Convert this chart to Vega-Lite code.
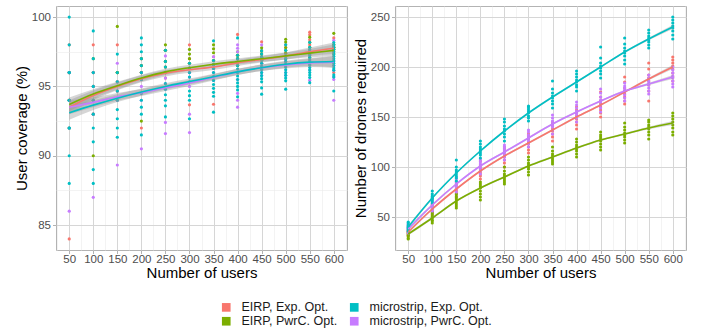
{
 "$schema": "https://vega.github.io/schema/vega-lite/v6.json",
 "padding": {"left": 13, "top": 5, "right": 4, "bottom": 0},
 "background": "white",
 "config": {
  "font": "Liberation Sans",
  "view": {"stroke": "#B3B3B3", "strokeWidth": 1},
  "axis": {"labelFont": "Liberation Sans", "labelFontSize": 11.5, "labelColor": "#4D4D4D", "titleFont": "Liberation Sans", "titleFontSize": 15, "titleFontWeight": "normal", "titleColor": "#000000", "tickColor": "#B3B3B3", "tickSize": 3.5, "labelPadding": 2, "titlePadding": 2, "domain": false, "grid": true},
  "axisX": {"labelPadding": 0, "titlePadding": 0.5},
  "legend": {"labelFont": "Liberation Sans", "labelFontSize": 12.5, "labelColor": "#1A1A1A"}
 },
 "datasets": {
  "coverage": [
   {"users":50,"cfg":"E1","value":84},{"users":50,"cfg":"E1","value":94},{"users":50,"cfg":"E1","value":96},{"users":50,"cfg":"E1","value":94},{"users":50,"cfg":"E1","value":92},{"users":50,"cfg":"E1","value":96},{"users":50,"cfg":"E1","value":98},
   {"users":100,"cfg":"E1","value":98},{"users":100,"cfg":"E1","value":95},{"users":100,"cfg":"E1","value":94},{"users":100,"cfg":"E1","value":96},{"users":100,"cfg":"E1","value":93},
   {"users":150,"cfg":"E1","value":98},{"users":150,"cfg":"E1","value":95.33},{"users":150,"cfg":"E1","value":96},{"users":150,"cfg":"E1","value":94.67},{"users":150,"cfg":"E1","value":94},
   {"users":200,"cfg":"E1","value":92},{"users":200,"cfg":"E1","value":96},{"users":200,"cfg":"E1","value":95.5},{"users":200,"cfg":"E1","value":96.5},{"users":200,"cfg":"E1","value":97},{"users":200,"cfg":"E1","value":96},
   {"users":250,"cfg":"E1","value":96.4},{"users":250,"cfg":"E1","value":96},{"users":250,"cfg":"E1","value":96.8},{"users":250,"cfg":"E1","value":95.6},{"users":250,"cfg":"E1","value":97.6},
   {"users":300,"cfg":"E1","value":98},{"users":300,"cfg":"E1","value":93.67},{"users":300,"cfg":"E1","value":96.67},{"users":300,"cfg":"E1","value":96.33},{"users":300,"cfg":"E1","value":96},{"users":300,"cfg":"E1","value":97},
   {"users":350,"cfg":"E1","value":93.71},{"users":350,"cfg":"E1","value":96.57},{"users":350,"cfg":"E1","value":96.86},{"users":350,"cfg":"E1","value":97.14},{"users":350,"cfg":"E1","value":96.29},
   {"users":400,"cfg":"E1","value":98.75},{"users":400,"cfg":"E1","value":97},{"users":400,"cfg":"E1","value":96.5},{"users":400,"cfg":"E1","value":96.75},{"users":400,"cfg":"E1","value":97.25},
   {"users":450,"cfg":"E1","value":98.22},{"users":450,"cfg":"E1","value":97.33},{"users":450,"cfg":"E1","value":97.11},{"users":450,"cfg":"E1","value":96.67},{"users":450,"cfg":"E1","value":97.56},
   {"users":500,"cfg":"E1","value":98},{"users":500,"cfg":"E1","value":97.8},{"users":500,"cfg":"E1","value":97.4},{"users":500,"cfg":"E1","value":97.2},{"users":500,"cfg":"E1","value":96.8},{"users":500,"cfg":"E1","value":97},
   {"users":550,"cfg":"E1","value":98.91},{"users":550,"cfg":"E1","value":98.73},{"users":550,"cfg":"E1","value":98.36},{"users":550,"cfg":"E1","value":98},{"users":550,"cfg":"E1","value":97.64},{"users":550,"cfg":"E1","value":97.27},
   {"users":600,"cfg":"E1","value":98.5},{"users":600,"cfg":"E1","value":98},{"users":600,"cfg":"E1","value":97.5},{"users":600,"cfg":"E1","value":96},{"users":600,"cfg":"E1","value":97.67},{"users":600,"cfg":"E1","value":97.83},
   {"users":50,"cfg":"E2","value":94},{"users":50,"cfg":"E2","value":96},{"users":50,"cfg":"E2","value":92},{"users":50,"cfg":"E2","value":94},{"users":50,"cfg":"E2","value":96},{"users":50,"cfg":"E2","value":94},
   {"users":100,"cfg":"E2","value":90},{"users":100,"cfg":"E2","value":95},{"users":100,"cfg":"E2","value":94},{"users":100,"cfg":"E2","value":96},{"users":100,"cfg":"E2","value":97},{"users":100,"cfg":"E2","value":93},
   {"users":150,"cfg":"E2","value":99.33},{"users":150,"cfg":"E2","value":96},{"users":150,"cfg":"E2","value":95.33},{"users":150,"cfg":"E2","value":94.67},{"users":150,"cfg":"E2","value":96},
   {"users":200,"cfg":"E2","value":92.5},{"users":200,"cfg":"E2","value":96},{"users":200,"cfg":"E2","value":97},{"users":200,"cfg":"E2","value":96.5},{"users":200,"cfg":"E2","value":95.5},{"users":200,"cfg":"E2","value":96},
   {"users":250,"cfg":"E2","value":98},{"users":250,"cfg":"E2","value":96.8},{"users":250,"cfg":"E2","value":96.4},{"users":250,"cfg":"E2","value":96},{"users":250,"cfg":"E2","value":97.6},
   {"users":300,"cfg":"E2","value":97.67},{"users":300,"cfg":"E2","value":97.33},{"users":300,"cfg":"E2","value":97},{"users":300,"cfg":"E2","value":96.33},{"users":300,"cfg":"E2","value":96.67},
   {"users":350,"cfg":"E2","value":98},{"users":350,"cfg":"E2","value":97.71},{"users":350,"cfg":"E2","value":97.43},{"users":350,"cfg":"E2","value":96.86},{"users":350,"cfg":"E2","value":96.57},
   {"users":400,"cfg":"E2","value":97.25},{"users":400,"cfg":"E2","value":97},{"users":400,"cfg":"E2","value":96.75},{"users":400,"cfg":"E2","value":97.5},{"users":400,"cfg":"E2","value":96.5},
   {"users":450,"cfg":"E2","value":97.78},{"users":450,"cfg":"E2","value":97.56},{"users":450,"cfg":"E2","value":97.33},{"users":450,"cfg":"E2","value":96.89},{"users":450,"cfg":"E2","value":97.11},
   {"users":500,"cfg":"E2","value":98.4},{"users":500,"cfg":"E2","value":98.2},{"users":500,"cfg":"E2","value":97.8},{"users":500,"cfg":"E2","value":97.6},{"users":500,"cfg":"E2","value":97.4},{"users":500,"cfg":"E2","value":97},
   {"users":550,"cfg":"E2","value":98.55},{"users":550,"cfg":"E2","value":98.18},{"users":550,"cfg":"E2","value":97.82},{"users":550,"cfg":"E2","value":97.45},{"users":550,"cfg":"E2","value":97.09},
   {"users":600,"cfg":"E2","value":98.83},{"users":600,"cfg":"E2","value":98},{"users":600,"cfg":"E2","value":97.67},{"users":600,"cfg":"E2","value":97.33},{"users":600,"cfg":"E2","value":97.83},
   {"users":50,"cfg":"M2","value":86},{"users":50,"cfg":"M2","value":94},{"users":50,"cfg":"M2","value":96},{"users":50,"cfg":"M2","value":92},{"users":50,"cfg":"M2","value":94},{"users":50,"cfg":"M2","value":96},
   {"users":100,"cfg":"M2","value":87},{"users":100,"cfg":"M2","value":94},{"users":100,"cfg":"M2","value":95},{"users":100,"cfg":"M2","value":93},{"users":100,"cfg":"M2","value":96},
   {"users":150,"cfg":"M2","value":96.67},{"users":150,"cfg":"M2","value":89.33},{"users":150,"cfg":"M2","value":94.67},{"users":150,"cfg":"M2","value":94},{"users":150,"cfg":"M2","value":95.33},
   {"users":200,"cfg":"M2","value":95},{"users":200,"cfg":"M2","value":90.5},{"users":200,"cfg":"M2","value":94.5},{"users":200,"cfg":"M2","value":95.5},{"users":200,"cfg":"M2","value":94},{"users":200,"cfg":"M2","value":96},
   {"users":250,"cfg":"M2","value":97.2},{"users":250,"cfg":"M2","value":95.6},{"users":250,"cfg":"M2","value":92.4},{"users":250,"cfg":"M2","value":91.6},{"users":250,"cfg":"M2","value":95.2},{"users":250,"cfg":"M2","value":94.8},
   {"users":300,"cfg":"M2","value":95},{"users":300,"cfg":"M2","value":93},{"users":300,"cfg":"M2","value":91.67},{"users":300,"cfg":"M2","value":95.67},{"users":300,"cfg":"M2","value":96},{"users":300,"cfg":"M2","value":96.33},
   {"users":350,"cfg":"M2","value":97.14},{"users":350,"cfg":"M2","value":96},{"users":350,"cfg":"M2","value":95.71},{"users":350,"cfg":"M2","value":96.29},{"users":350,"cfg":"M2","value":95.43},
   {"users":400,"cfg":"M2","value":98},{"users":400,"cfg":"M2","value":97.75},{"users":400,"cfg":"M2","value":97.5},{"users":400,"cfg":"M2","value":94.5},{"users":400,"cfg":"M2","value":94},{"users":400,"cfg":"M2","value":93.5},{"users":400,"cfg":"M2","value":96},{"users":400,"cfg":"M2","value":95.5},
   {"users":450,"cfg":"M2","value":98},{"users":450,"cfg":"M2","value":96.67},{"users":450,"cfg":"M2","value":96.44},{"users":450,"cfg":"M2","value":96.22},{"users":450,"cfg":"M2","value":95.78},{"users":450,"cfg":"M2","value":96},
   {"users":500,"cfg":"M2","value":97.2},{"users":500,"cfg":"M2","value":96.8},{"users":500,"cfg":"M2","value":96.4},{"users":500,"cfg":"M2","value":96},{"users":500,"cfg":"M2","value":95.8},{"users":500,"cfg":"M2","value":96.6},
   {"users":550,"cfg":"M2","value":97.45},{"users":550,"cfg":"M2","value":97.27},{"users":550,"cfg":"M2","value":96.91},{"users":550,"cfg":"M2","value":96.55},{"users":550,"cfg":"M2","value":96.18},{"users":550,"cfg":"M2","value":95.45},
   {"users":600,"cfg":"M2","value":98.33},{"users":600,"cfg":"M2","value":96.83},{"users":600,"cfg":"M2","value":96.5},{"users":600,"cfg":"M2","value":95.5},{"users":600,"cfg":"M2","value":95.67},{"users":600,"cfg":"M2","value":94},{"users":600,"cfg":"M2","value":96.17},
   {"users":50,"cfg":"M1","value":100},{"users":50,"cfg":"M1","value":98},{"users":50,"cfg":"M1","value":96},{"users":50,"cfg":"M1","value":94},{"users":50,"cfg":"M1","value":92},{"users":50,"cfg":"M1","value":90},{"users":50,"cfg":"M1","value":88},{"users":50,"cfg":"M1","value":94},{"users":50,"cfg":"M1","value":92},{"users":50,"cfg":"M1","value":96},
   {"users":100,"cfg":"M1","value":99},{"users":100,"cfg":"M1","value":97},{"users":100,"cfg":"M1","value":96},{"users":100,"cfg":"M1","value":95},{"users":100,"cfg":"M1","value":94},{"users":100,"cfg":"M1","value":93},{"users":100,"cfg":"M1","value":92},{"users":100,"cfg":"M1","value":91},{"users":100,"cfg":"M1","value":89},{"users":100,"cfg":"M1","value":88},
   {"users":150,"cfg":"M1","value":97.33},{"users":150,"cfg":"M1","value":96},{"users":150,"cfg":"M1","value":95.33},{"users":150,"cfg":"M1","value":94.67},{"users":150,"cfg":"M1","value":94},{"users":150,"cfg":"M1","value":93.33},{"users":150,"cfg":"M1","value":92.67},{"users":150,"cfg":"M1","value":92},{"users":150,"cfg":"M1","value":91.33},
   {"users":200,"cfg":"M1","value":98.5},{"users":200,"cfg":"M1","value":98},{"users":200,"cfg":"M1","value":97.5},{"users":200,"cfg":"M1","value":97},{"users":200,"cfg":"M1","value":96.5},{"users":200,"cfg":"M1","value":96},{"users":200,"cfg":"M1","value":95.5},{"users":200,"cfg":"M1","value":94.5},{"users":200,"cfg":"M1","value":94},{"users":200,"cfg":"M1","value":93.5},{"users":200,"cfg":"M1","value":93},{"users":200,"cfg":"M1","value":91.5},
   {"users":250,"cfg":"M1","value":97.6},{"users":250,"cfg":"M1","value":96.8},{"users":250,"cfg":"M1","value":96.4},{"users":250,"cfg":"M1","value":96},{"users":250,"cfg":"M1","value":95.2},{"users":250,"cfg":"M1","value":94.8},{"users":250,"cfg":"M1","value":94.4},{"users":250,"cfg":"M1","value":94},{"users":250,"cfg":"M1","value":93.6},{"users":250,"cfg":"M1","value":92.8},
   {"users":300,"cfg":"M1","value":96.67},{"users":300,"cfg":"M1","value":96.33},{"users":300,"cfg":"M1","value":96},{"users":300,"cfg":"M1","value":95.67},{"users":300,"cfg":"M1","value":95.33},{"users":300,"cfg":"M1","value":94.67},{"users":300,"cfg":"M1","value":94.33},{"users":300,"cfg":"M1","value":94},{"users":300,"cfg":"M1","value":92.67},
   {"users":350,"cfg":"M1","value":98.29},{"users":350,"cfg":"M1","value":96.86},{"users":350,"cfg":"M1","value":96.57},{"users":350,"cfg":"M1","value":96.29},{"users":350,"cfg":"M1","value":96},{"users":350,"cfg":"M1","value":95.71},{"users":350,"cfg":"M1","value":95.43},{"users":350,"cfg":"M1","value":95.14},{"users":350,"cfg":"M1","value":94.86},{"users":350,"cfg":"M1","value":94.57},{"users":350,"cfg":"M1","value":94.29},{"users":350,"cfg":"M1","value":93.14},
   {"users":400,"cfg":"M1","value":98.5},{"users":400,"cfg":"M1","value":97.25},{"users":400,"cfg":"M1","value":97},{"users":400,"cfg":"M1","value":96.75},{"users":400,"cfg":"M1","value":96.5},{"users":400,"cfg":"M1","value":96.25},{"users":400,"cfg":"M1","value":96},{"users":400,"cfg":"M1","value":95.75},{"users":400,"cfg":"M1","value":95.5},{"users":400,"cfg":"M1","value":95.25},{"users":400,"cfg":"M1","value":95},{"users":400,"cfg":"M1","value":94.75},{"users":400,"cfg":"M1","value":94.25},
   {"users":450,"cfg":"M1","value":97.56},{"users":450,"cfg":"M1","value":97.33},{"users":450,"cfg":"M1","value":97.11},{"users":450,"cfg":"M1","value":96.89},{"users":450,"cfg":"M1","value":96.67},{"users":450,"cfg":"M1","value":96.44},{"users":450,"cfg":"M1","value":96.22},{"users":450,"cfg":"M1","value":96},{"users":450,"cfg":"M1","value":95.78},{"users":450,"cfg":"M1","value":95.56},{"users":450,"cfg":"M1","value":95.33},{"users":450,"cfg":"M1","value":94.89},{"users":450,"cfg":"M1","value":94.44},
   {"users":500,"cfg":"M1","value":98},{"users":500,"cfg":"M1","value":97.6},{"users":500,"cfg":"M1","value":97.2},{"users":500,"cfg":"M1","value":97},{"users":500,"cfg":"M1","value":96.8},{"users":500,"cfg":"M1","value":96.6},{"users":500,"cfg":"M1","value":96.4},{"users":500,"cfg":"M1","value":96.2},{"users":500,"cfg":"M1","value":96},{"users":500,"cfg":"M1","value":95.8},{"users":500,"cfg":"M1","value":95.6},{"users":500,"cfg":"M1","value":95.4},{"users":500,"cfg":"M1","value":94.8},
   {"users":550,"cfg":"M1","value":98.18},{"users":550,"cfg":"M1","value":97.82},{"users":550,"cfg":"M1","value":97.64},{"users":550,"cfg":"M1","value":97.45},{"users":550,"cfg":"M1","value":97.27},{"users":550,"cfg":"M1","value":97.09},{"users":550,"cfg":"M1","value":96.91},{"users":550,"cfg":"M1","value":96.73},{"users":550,"cfg":"M1","value":96.55},{"users":550,"cfg":"M1","value":96.36},{"users":550,"cfg":"M1","value":96.18},{"users":550,"cfg":"M1","value":96},{"users":550,"cfg":"M1","value":95.82},{"users":550,"cfg":"M1","value":95.64},{"users":550,"cfg":"M1","value":95.27},
   {"users":600,"cfg":"M1","value":98.17},{"users":600,"cfg":"M1","value":98},{"users":600,"cfg":"M1","value":97.83},{"users":600,"cfg":"M1","value":97.67},{"users":600,"cfg":"M1","value":97.5},{"users":600,"cfg":"M1","value":97.33},{"users":600,"cfg":"M1","value":97.17},{"users":600,"cfg":"M1","value":97},{"users":600,"cfg":"M1","value":96.83},{"users":600,"cfg":"M1","value":96.67},{"users":600,"cfg":"M1","value":96.5},{"users":600,"cfg":"M1","value":96.33},{"users":600,"cfg":"M1","value":96.17},{"users":600,"cfg":"M1","value":95.83},{"users":600,"cfg":"M1","value":95.67},{"users":600,"cfg":"M1","value":94.67}
  ],
  "coverFit": [
   {"users":50,"cfg":"E1","fit":93.5,"lo":93.0,"hi":94.0},{"users":100,"cfg":"E1","fit":94.35,"lo":94.0,"hi":94.7},{"users":150,"cfg":"E1","fit":95.0,"lo":94.72,"hi":95.28},{"users":200,"cfg":"E1","fit":95.55,"lo":95.3,"hi":95.8},{"users":250,"cfg":"E1","fit":95.95,"lo":95.72,"hi":96.18},{"users":300,"cfg":"E1","fit":96.2,"lo":95.98,"hi":96.42},{"users":350,"cfg":"E1","fit":96.4,"lo":96.18,"hi":96.62},{"users":400,"cfg":"E1","fit":96.7,"lo":96.48,"hi":96.92},{"users":450,"cfg":"E1","fit":96.95,"lo":96.72,"hi":97.18},{"users":500,"cfg":"E1","fit":97.2,"lo":96.95,"hi":97.45},{"users":550,"cfg":"E1","fit":97.5,"lo":97.2,"hi":97.8},{"users":600,"cfg":"E1","fit":97.75,"lo":97.33,"hi":98.17},
   {"users":50,"cfg":"E2","fit":93.7,"lo":93.2,"hi":94.2},{"users":100,"cfg":"E2","fit":94.45,"lo":94.1,"hi":94.8},{"users":150,"cfg":"E2","fit":95.05,"lo":94.77,"hi":95.33},{"users":200,"cfg":"E2","fit":95.6,"lo":95.35,"hi":95.85},{"users":250,"cfg":"E2","fit":96.05,"lo":95.82,"hi":96.28},{"users":300,"cfg":"E2","fit":96.35,"lo":96.13,"hi":96.57},{"users":350,"cfg":"E2","fit":96.6,"lo":96.38,"hi":96.82},{"users":400,"cfg":"E2","fit":96.8,"lo":96.58,"hi":97.02},{"users":450,"cfg":"E2","fit":97.0,"lo":96.77,"hi":97.23},{"users":500,"cfg":"E2","fit":97.2,"lo":96.95,"hi":97.45},{"users":550,"cfg":"E2","fit":97.4,"lo":97.1,"hi":97.7},{"users":600,"cfg":"E2","fit":97.6,"lo":97.18,"hi":98.02},
   {"users":50,"cfg":"M2","fit":93.5,"lo":93.0,"hi":94.0},{"users":100,"cfg":"M2","fit":93.85,"lo":93.5,"hi":94.2},{"users":150,"cfg":"M2","fit":94.25,"lo":93.97,"hi":94.53},{"users":200,"cfg":"M2","fit":94.55,"lo":94.3,"hi":94.8},{"users":250,"cfg":"M2","fit":94.9,"lo":94.67,"hi":95.13},{"users":300,"cfg":"M2","fit":95.25,"lo":95.03,"hi":95.47},{"users":350,"cfg":"M2","fit":95.65,"lo":95.43,"hi":95.87},{"users":400,"cfg":"M2","fit":96.05,"lo":95.83,"hi":96.27},{"users":450,"cfg":"M2","fit":96.35,"lo":96.12,"hi":96.58},{"users":500,"cfg":"M2","fit":96.55,"lo":96.3,"hi":96.8},{"users":550,"cfg":"M2","fit":96.7,"lo":96.4,"hi":97.0},{"users":600,"cfg":"M2","fit":96.75,"lo":96.33,"hi":97.17},
   {"users":50,"cfg":"M1","fit":93.1,"lo":92.6,"hi":93.6},{"users":100,"cfg":"M1","fit":93.65,"lo":93.3,"hi":94.0},{"users":150,"cfg":"M1","fit":94.15,"lo":93.87,"hi":94.43},{"users":200,"cfg":"M1","fit":94.6,"lo":94.35,"hi":94.85},{"users":250,"cfg":"M1","fit":95.0,"lo":94.77,"hi":95.23},{"users":300,"cfg":"M1","fit":95.35,"lo":95.13,"hi":95.57},{"users":350,"cfg":"M1","fit":95.7,"lo":95.48,"hi":95.92},{"users":400,"cfg":"M1","fit":96.05,"lo":95.83,"hi":96.27},{"users":450,"cfg":"M1","fit":96.35,"lo":96.12,"hi":96.58},{"users":500,"cfg":"M1","fit":96.6,"lo":96.35,"hi":96.85},{"users":550,"cfg":"M1","fit":96.75,"lo":96.45,"hi":97.05},{"users":600,"cfg":"M1","fit":96.8,"lo":96.38,"hi":97.22}
  ],
  "drones": [
   {"users":50,"cfg":"E1","value":31},{"users":50,"cfg":"E1","value":32},{"users":50,"cfg":"E1","value":34},{"users":50,"cfg":"E1","value":35},{"users":50,"cfg":"E1","value":36},{"users":50,"cfg":"E1","value":37},{"users":50,"cfg":"E1","value":38},{"users":50,"cfg":"E1","value":40},
   {"users":100,"cfg":"E1","value":52},{"users":100,"cfg":"E1","value":54},{"users":100,"cfg":"E1","value":56},{"users":100,"cfg":"E1","value":58},{"users":100,"cfg":"E1","value":59},{"users":100,"cfg":"E1","value":60},{"users":100,"cfg":"E1","value":62},{"users":100,"cfg":"E1","value":63},
   {"users":150,"cfg":"E1","value":70},{"users":150,"cfg":"E1","value":73},{"users":150,"cfg":"E1","value":75},{"users":150,"cfg":"E1","value":77},{"users":150,"cfg":"E1","value":79},{"users":150,"cfg":"E1","value":81},{"users":150,"cfg":"E1","value":83},{"users":150,"cfg":"E1","value":85},
   {"users":200,"cfg":"E1","value":88},{"users":200,"cfg":"E1","value":91},{"users":200,"cfg":"E1","value":93},{"users":200,"cfg":"E1","value":95},{"users":200,"cfg":"E1","value":97},{"users":200,"cfg":"E1","value":99},{"users":200,"cfg":"E1","value":102},{"users":200,"cfg":"E1","value":106},
   {"users":250,"cfg":"E1","value":100},{"users":250,"cfg":"E1","value":104},{"users":250,"cfg":"E1","value":107},{"users":250,"cfg":"E1","value":110},{"users":250,"cfg":"E1","value":112},{"users":250,"cfg":"E1","value":115},{"users":250,"cfg":"E1","value":118},{"users":250,"cfg":"E1","value":120},
   {"users":300,"cfg":"E1","value":114},{"users":300,"cfg":"E1","value":117},{"users":300,"cfg":"E1","value":120},{"users":300,"cfg":"E1","value":123},{"users":300,"cfg":"E1","value":125},{"users":300,"cfg":"E1","value":128},{"users":300,"cfg":"E1","value":131},{"users":300,"cfg":"E1","value":133},
   {"users":350,"cfg":"E1","value":126},{"users":350,"cfg":"E1","value":130},{"users":350,"cfg":"E1","value":133},{"users":350,"cfg":"E1","value":136},{"users":350,"cfg":"E1","value":138},{"users":350,"cfg":"E1","value":141},{"users":350,"cfg":"E1","value":143},{"users":350,"cfg":"E1","value":145},
   {"users":400,"cfg":"E1","value":138},{"users":400,"cfg":"E1","value":142},{"users":400,"cfg":"E1","value":145},{"users":400,"cfg":"E1","value":148},{"users":400,"cfg":"E1","value":151},{"users":400,"cfg":"E1","value":154},{"users":400,"cfg":"E1","value":157},{"users":400,"cfg":"E1","value":160},
   {"users":450,"cfg":"E1","value":150},{"users":450,"cfg":"E1","value":154},{"users":450,"cfg":"E1","value":157},{"users":450,"cfg":"E1","value":160},{"users":450,"cfg":"E1","value":163},{"users":450,"cfg":"E1","value":166},{"users":450,"cfg":"E1","value":170},{"users":450,"cfg":"E1","value":175},
   {"users":500,"cfg":"E1","value":163},{"users":500,"cfg":"E1","value":166},{"users":500,"cfg":"E1","value":170},{"users":500,"cfg":"E1","value":173},{"users":500,"cfg":"E1","value":176},{"users":500,"cfg":"E1","value":179},{"users":500,"cfg":"E1","value":185},{"users":500,"cfg":"E1","value":190},
   {"users":550,"cfg":"E1","value":166},{"users":550,"cfg":"E1","value":176},{"users":550,"cfg":"E1","value":182},{"users":550,"cfg":"E1","value":186},{"users":550,"cfg":"E1","value":189},{"users":550,"cfg":"E1","value":192},{"users":550,"cfg":"E1","value":198},{"users":550,"cfg":"E1","value":204},
   {"users":600,"cfg":"E1","value":186},{"users":600,"cfg":"E1","value":190},{"users":600,"cfg":"E1","value":194},{"users":600,"cfg":"E1","value":198},{"users":600,"cfg":"E1","value":201},{"users":600,"cfg":"E1","value":204},{"users":600,"cfg":"E1","value":207},{"users":600,"cfg":"E1","value":210},
   {"users":50,"cfg":"E2","value":28},{"users":50,"cfg":"E2","value":29},{"users":50,"cfg":"E2","value":31},{"users":50,"cfg":"E2","value":32},{"users":50,"cfg":"E2","value":33},{"users":50,"cfg":"E2","value":34},{"users":50,"cfg":"E2","value":35},{"users":50,"cfg":"E2","value":36},
   {"users":100,"cfg":"E2","value":44},{"users":100,"cfg":"E2","value":46},{"users":100,"cfg":"E2","value":47},{"users":100,"cfg":"E2","value":49},{"users":100,"cfg":"E2","value":50},{"users":100,"cfg":"E2","value":51},{"users":100,"cfg":"E2","value":53},{"users":100,"cfg":"E2","value":55},
   {"users":150,"cfg":"E2","value":59},{"users":150,"cfg":"E2","value":61},{"users":150,"cfg":"E2","value":63},{"users":150,"cfg":"E2","value":65},{"users":150,"cfg":"E2","value":67},{"users":150,"cfg":"E2","value":69},{"users":150,"cfg":"E2","value":71},{"users":150,"cfg":"E2","value":73},
   {"users":200,"cfg":"E2","value":67},{"users":200,"cfg":"E2","value":70},{"users":200,"cfg":"E2","value":73},{"users":200,"cfg":"E2","value":76},{"users":200,"cfg":"E2","value":79},{"users":200,"cfg":"E2","value":81},{"users":200,"cfg":"E2","value":83},{"users":200,"cfg":"E2","value":85},
   {"users":250,"cfg":"E2","value":83},{"users":250,"cfg":"E2","value":85},{"users":250,"cfg":"E2","value":87},{"users":250,"cfg":"E2","value":89},{"users":250,"cfg":"E2","value":91},{"users":250,"cfg":"E2","value":93},{"users":250,"cfg":"E2","value":96},{"users":250,"cfg":"E2","value":100},
   {"users":300,"cfg":"E2","value":92},{"users":300,"cfg":"E2","value":95},{"users":300,"cfg":"E2","value":98},{"users":300,"cfg":"E2","value":100},{"users":300,"cfg":"E2","value":102},{"users":300,"cfg":"E2","value":104},{"users":300,"cfg":"E2","value":107},{"users":300,"cfg":"E2","value":110},
   {"users":350,"cfg":"E2","value":103},{"users":350,"cfg":"E2","value":105},{"users":350,"cfg":"E2","value":107},{"users":350,"cfg":"E2","value":109},{"users":350,"cfg":"E2","value":111},{"users":350,"cfg":"E2","value":113},{"users":350,"cfg":"E2","value":116},{"users":350,"cfg":"E2","value":120},
   {"users":400,"cfg":"E2","value":110},{"users":400,"cfg":"E2","value":113},{"users":400,"cfg":"E2","value":116},{"users":400,"cfg":"E2","value":118},{"users":400,"cfg":"E2","value":120},{"users":400,"cfg":"E2","value":122},{"users":400,"cfg":"E2","value":125},{"users":400,"cfg":"E2","value":128},
   {"users":450,"cfg":"E2","value":117},{"users":450,"cfg":"E2","value":120},{"users":450,"cfg":"E2","value":123},{"users":450,"cfg":"E2","value":126},{"users":450,"cfg":"E2","value":128},{"users":450,"cfg":"E2","value":130},{"users":450,"cfg":"E2","value":132},{"users":450,"cfg":"E2","value":135},
   {"users":500,"cfg":"E2","value":124},{"users":500,"cfg":"E2","value":127},{"users":500,"cfg":"E2","value":130},{"users":500,"cfg":"E2","value":132},{"users":500,"cfg":"E2","value":134},{"users":500,"cfg":"E2","value":137},{"users":500,"cfg":"E2","value":140},{"users":500,"cfg":"E2","value":144},
   {"users":550,"cfg":"E2","value":128},{"users":550,"cfg":"E2","value":132},{"users":550,"cfg":"E2","value":135},{"users":550,"cfg":"E2","value":138},{"users":550,"cfg":"E2","value":140},{"users":550,"cfg":"E2","value":142},{"users":550,"cfg":"E2","value":145},{"users":550,"cfg":"E2","value":147},
   {"users":600,"cfg":"E2","value":132},{"users":600,"cfg":"E2","value":135},{"users":600,"cfg":"E2","value":139},{"users":600,"cfg":"E2","value":142},{"users":600,"cfg":"E2","value":145},{"users":600,"cfg":"E2","value":148},{"users":600,"cfg":"E2","value":151},{"users":600,"cfg":"E2","value":154},
   {"users":50,"cfg":"M2","value":34},{"users":50,"cfg":"M2","value":36},{"users":50,"cfg":"M2","value":37},{"users":50,"cfg":"M2","value":38},{"users":50,"cfg":"M2","value":39},{"users":50,"cfg":"M2","value":40},{"users":50,"cfg":"M2","value":42},{"users":50,"cfg":"M2","value":43},
   {"users":100,"cfg":"M2","value":56},{"users":100,"cfg":"M2","value":58},{"users":100,"cfg":"M2","value":60},{"users":100,"cfg":"M2","value":62},{"users":100,"cfg":"M2","value":63},{"users":100,"cfg":"M2","value":65},{"users":100,"cfg":"M2","value":67},{"users":100,"cfg":"M2","value":68},
   {"users":150,"cfg":"M2","value":75},{"users":150,"cfg":"M2","value":78},{"users":150,"cfg":"M2","value":80},{"users":150,"cfg":"M2","value":82},{"users":150,"cfg":"M2","value":84},{"users":150,"cfg":"M2","value":86},{"users":150,"cfg":"M2","value":88},{"users":150,"cfg":"M2","value":90},
   {"users":200,"cfg":"M2","value":93},{"users":200,"cfg":"M2","value":96},{"users":200,"cfg":"M2","value":98},{"users":200,"cfg":"M2","value":100},{"users":200,"cfg":"M2","value":102},{"users":200,"cfg":"M2","value":104},{"users":200,"cfg":"M2","value":106},{"users":200,"cfg":"M2","value":108},
   {"users":250,"cfg":"M2","value":107},{"users":250,"cfg":"M2","value":110},{"users":250,"cfg":"M2","value":112},{"users":250,"cfg":"M2","value":114},{"users":250,"cfg":"M2","value":116},{"users":250,"cfg":"M2","value":118},{"users":250,"cfg":"M2","value":120},{"users":250,"cfg":"M2","value":122},
   {"users":300,"cfg":"M2","value":120},{"users":300,"cfg":"M2","value":123},{"users":300,"cfg":"M2","value":126},{"users":300,"cfg":"M2","value":128},{"users":300,"cfg":"M2","value":130},{"users":300,"cfg":"M2","value":132},{"users":300,"cfg":"M2","value":135},{"users":300,"cfg":"M2","value":137},
   {"users":350,"cfg":"M2","value":133},{"users":350,"cfg":"M2","value":137},{"users":350,"cfg":"M2","value":140},{"users":350,"cfg":"M2","value":142},{"users":350,"cfg":"M2","value":144},{"users":350,"cfg":"M2","value":146},{"users":350,"cfg":"M2","value":149},{"users":350,"cfg":"M2","value":152},
   {"users":400,"cfg":"M2","value":145},{"users":400,"cfg":"M2","value":149},{"users":400,"cfg":"M2","value":152},{"users":400,"cfg":"M2","value":154},{"users":400,"cfg":"M2","value":156},{"users":400,"cfg":"M2","value":159},{"users":400,"cfg":"M2","value":162},{"users":400,"cfg":"M2","value":165},
   {"users":450,"cfg":"M2","value":155},{"users":450,"cfg":"M2","value":159},{"users":450,"cfg":"M2","value":162},{"users":450,"cfg":"M2","value":165},{"users":450,"cfg":"M2","value":167},{"users":450,"cfg":"M2","value":170},{"users":450,"cfg":"M2","value":174},{"users":450,"cfg":"M2","value":178},
   {"users":500,"cfg":"M2","value":166},{"users":500,"cfg":"M2","value":169},{"users":500,"cfg":"M2","value":172},{"users":500,"cfg":"M2","value":175},{"users":500,"cfg":"M2","value":177},{"users":500,"cfg":"M2","value":179},{"users":500,"cfg":"M2","value":181},{"users":500,"cfg":"M2","value":184},
   {"users":550,"cfg":"M2","value":173},{"users":550,"cfg":"M2","value":176},{"users":550,"cfg":"M2","value":179},{"users":550,"cfg":"M2","value":182},{"users":550,"cfg":"M2","value":184},{"users":550,"cfg":"M2","value":186},{"users":550,"cfg":"M2","value":189},{"users":550,"cfg":"M2","value":192},
   {"users":600,"cfg":"M2","value":180},{"users":600,"cfg":"M2","value":183},{"users":600,"cfg":"M2","value":186},{"users":600,"cfg":"M2","value":189},{"users":600,"cfg":"M2","value":191},{"users":600,"cfg":"M2","value":194},{"users":600,"cfg":"M2","value":197},{"users":600,"cfg":"M2","value":200},
   {"users":50,"cfg":"M1","value":36},{"users":50,"cfg":"M1","value":38},{"users":50,"cfg":"M1","value":39},{"users":50,"cfg":"M1","value":40},{"users":50,"cfg":"M1","value":41},{"users":50,"cfg":"M1","value":42},{"users":50,"cfg":"M1","value":44},{"users":50,"cfg":"M1","value":45},
   {"users":100,"cfg":"M1","value":64},{"users":100,"cfg":"M1","value":66},{"users":100,"cfg":"M1","value":68},{"users":100,"cfg":"M1","value":69},{"users":100,"cfg":"M1","value":70},{"users":100,"cfg":"M1","value":71},{"users":100,"cfg":"M1","value":73},{"users":100,"cfg":"M1","value":76},
   {"users":150,"cfg":"M1","value":86},{"users":150,"cfg":"M1","value":89},{"users":150,"cfg":"M1","value":91},{"users":150,"cfg":"M1","value":93},{"users":150,"cfg":"M1","value":95},{"users":150,"cfg":"M1","value":97},{"users":150,"cfg":"M1","value":100},{"users":150,"cfg":"M1","value":107},
   {"users":200,"cfg":"M1","value":109},{"users":200,"cfg":"M1","value":112},{"users":200,"cfg":"M1","value":114},{"users":200,"cfg":"M1","value":116},{"users":200,"cfg":"M1","value":118},{"users":200,"cfg":"M1","value":120},{"users":200,"cfg":"M1","value":123},{"users":200,"cfg":"M1","value":126},
   {"users":250,"cfg":"M1","value":126},{"users":250,"cfg":"M1","value":130},{"users":250,"cfg":"M1","value":133},{"users":250,"cfg":"M1","value":136},{"users":250,"cfg":"M1","value":138},{"users":250,"cfg":"M1","value":141},{"users":250,"cfg":"M1","value":145},{"users":250,"cfg":"M1","value":148},
   {"users":300,"cfg":"M1","value":146},{"users":300,"cfg":"M1","value":149},{"users":300,"cfg":"M1","value":151},{"users":300,"cfg":"M1","value":154},{"users":300,"cfg":"M1","value":156},{"users":300,"cfg":"M1","value":158},{"users":300,"cfg":"M1","value":160},{"users":300,"cfg":"M1","value":161},
   {"users":350,"cfg":"M1","value":159},{"users":350,"cfg":"M1","value":163},{"users":350,"cfg":"M1","value":166},{"users":350,"cfg":"M1","value":169},{"users":350,"cfg":"M1","value":171},{"users":350,"cfg":"M1","value":174},{"users":350,"cfg":"M1","value":178},{"users":350,"cfg":"M1","value":186},
   {"users":400,"cfg":"M1","value":176},{"users":400,"cfg":"M1","value":180},{"users":400,"cfg":"M1","value":182},{"users":400,"cfg":"M1","value":185},{"users":400,"cfg":"M1","value":187},{"users":400,"cfg":"M1","value":190},{"users":400,"cfg":"M1","value":193},{"users":400,"cfg":"M1","value":196},
   {"users":450,"cfg":"M1","value":189},{"users":450,"cfg":"M1","value":193},{"users":450,"cfg":"M1","value":196},{"users":450,"cfg":"M1","value":199},{"users":450,"cfg":"M1","value":201},{"users":450,"cfg":"M1","value":204},{"users":450,"cfg":"M1","value":209},{"users":450,"cfg":"M1","value":220},
   {"users":500,"cfg":"M1","value":203},{"users":500,"cfg":"M1","value":207},{"users":500,"cfg":"M1","value":211},{"users":500,"cfg":"M1","value":214},{"users":500,"cfg":"M1","value":216},{"users":500,"cfg":"M1","value":219},{"users":500,"cfg":"M1","value":223},{"users":500,"cfg":"M1","value":229},
   {"users":550,"cfg":"M1","value":219},{"users":550,"cfg":"M1","value":222},{"users":550,"cfg":"M1","value":225},{"users":550,"cfg":"M1","value":227},{"users":550,"cfg":"M1","value":229},{"users":550,"cfg":"M1","value":231},{"users":550,"cfg":"M1","value":234},{"users":550,"cfg":"M1","value":237},
   {"users":600,"cfg":"M1","value":228},{"users":600,"cfg":"M1","value":232},{"users":600,"cfg":"M1","value":236},{"users":600,"cfg":"M1","value":239},{"users":600,"cfg":"M1","value":241},{"users":600,"cfg":"M1","value":244},{"users":600,"cfg":"M1","value":247},{"users":600,"cfg":"M1","value":250}
  ],
  "droneFit": [
   {"users":50,"cfg":"E1","fit":35,"lo":33.5,"hi":36.5},{"users":100,"cfg":"E1","fit":58,"lo":56.8,"hi":59.2},{"users":150,"cfg":"E1","fit":78,"lo":77,"hi":79},{"users":200,"cfg":"E1","fit":96,"lo":95,"hi":97},{"users":250,"cfg":"E1","fit":111,"lo":110,"hi":112},{"users":300,"cfg":"E1","fit":124,"lo":123,"hi":125},{"users":350,"cfg":"E1","fit":137,"lo":136,"hi":138},{"users":400,"cfg":"E1","fit":150,"lo":149,"hi":151},{"users":450,"cfg":"E1","fit":162,"lo":161,"hi":163},{"users":500,"cfg":"E1","fit":175,"lo":173.9,"hi":176.1},{"users":550,"cfg":"E1","fit":188,"lo":186.7,"hi":189.3},{"users":600,"cfg":"E1","fit":200,"lo":198,"hi":202},
   {"users":50,"cfg":"E2","fit":33,"lo":31.5,"hi":34.5},{"users":100,"cfg":"E2","fit":49,"lo":47.8,"hi":50.2},{"users":150,"cfg":"E2","fit":66,"lo":65,"hi":67},{"users":200,"cfg":"E2","fit":79,"lo":78,"hi":80},{"users":250,"cfg":"E2","fit":90,"lo":89,"hi":91},{"users":300,"cfg":"E2","fit":101,"lo":100,"hi":102},{"users":350,"cfg":"E2","fit":110,"lo":109,"hi":111},{"users":400,"cfg":"E2","fit":119,"lo":118,"hi":120},{"users":450,"cfg":"E2","fit":127,"lo":126,"hi":128},{"users":500,"cfg":"E2","fit":133,"lo":131.9,"hi":134.1},{"users":550,"cfg":"E2","fit":139,"lo":137.7,"hi":140.3},{"users":600,"cfg":"E2","fit":144,"lo":142,"hi":146},
   {"users":50,"cfg":"M2","fit":38,"lo":36.5,"hi":39.5},{"users":100,"cfg":"M2","fit":62,"lo":60.8,"hi":63.2},{"users":150,"cfg":"M2","fit":83,"lo":82,"hi":84},{"users":200,"cfg":"M2","fit":101,"lo":100,"hi":102},{"users":250,"cfg":"M2","fit":115,"lo":114,"hi":116},{"users":300,"cfg":"M2","fit":129,"lo":128,"hi":130},{"users":350,"cfg":"M2","fit":143,"lo":142,"hi":144},{"users":400,"cfg":"M2","fit":155,"lo":154,"hi":156},{"users":450,"cfg":"M2","fit":166,"lo":165,"hi":167},{"users":500,"cfg":"M2","fit":176,"lo":174.9,"hi":177.1},{"users":550,"cfg":"M2","fit":183,"lo":181.7,"hi":184.3},{"users":600,"cfg":"M2","fit":190,"lo":188,"hi":192},
   {"users":50,"cfg":"M1","fit":40,"lo":38.5,"hi":41.5},{"users":100,"cfg":"M1","fit":69,"lo":67.8,"hi":70.2},{"users":150,"cfg":"M1","fit":94,"lo":93,"hi":95},{"users":200,"cfg":"M1","fit":116,"lo":115,"hi":117},{"users":250,"cfg":"M1","fit":136,"lo":135,"hi":137},{"users":300,"cfg":"M1","fit":154,"lo":153,"hi":155},{"users":350,"cfg":"M1","fit":170,"lo":169,"hi":171},{"users":400,"cfg":"M1","fit":185,"lo":184,"hi":186},{"users":450,"cfg":"M1","fit":200,"lo":199,"hi":201},{"users":500,"cfg":"M1","fit":215,"lo":213.9,"hi":216.1},{"users":550,"cfg":"M1","fit":228,"lo":226.7,"hi":229.3},{"users":600,"cfg":"M1","fit":240,"lo":238,"hi":242}
  ]
 },
 "spacing": 4,
 "resolve": {"scale": {"color": "shared"}},
 "hconcat": [
  {
   "width": 291, "height": 244,
   "encoding": {
    "x": {"field": "users", "type": "quantitative", "title": "Number of users",
          "scale": {"domain": [22.5, 627.5], "nice": false, "zero": false},
          "axis": {"values": [25,50,75,100,125,150,175,200,225,250,275,300,325,350,375,400,425,450,475,500,525,550,575,600,625],
                   "labelExpr": "datum.value % 50 == 0 ? datum.label : ''",
                   "labelOverlap": false, "labelFlush": false,
                   "tickOpacity": {"condition": {"test": "datum.value % 50 != 0", "value": 0}, "value": 1},
                   "gridColor": {"condition": {"test": "datum.value % 50 != 0", "value": "#EBEBEB"}, "value": "#D6D6D6"},
                   "gridWidth": {"condition": {"test": "datum.value % 50 != 0", "value": 0.6}, "value": 1}}}
   },
   "layer": [
    {"data": {"name": "coverage"}, "mark": {"type": "circle", "size": 10, "opacity": 1},
     "encoding": {
      "y": {"field": "value", "type": "quantitative", "title": "User coverage (%)",
            "scale": {"domain": [83.2, 100.8], "nice": false, "zero": false},
            "axis": {"values": [85, 87.5, 90, 92.5, 95, 97.5, 100],
                     "labelExpr": "datum.value % 5 == 0 ? datum.label : ''", "labelOverlap": false, "labelFlush": false,
                     "tickOpacity": {"condition": {"test": "datum.value % 5 != 0", "value": 0}, "value": 1},
                     "gridColor": {"condition": {"test": "datum.value % 5 != 0", "value": "#EBEBEB"}, "value": "#D6D6D6"},
                     "gridWidth": {"condition": {"test": "datum.value % 5 != 0", "value": 0.6}, "value": 1}}},
      "color": {"field": "cfg", "type": "nominal",
                "scale": {"domain": ["E1", "E2", "M1", "M2"], "range": ["#F8766D", "#7CAE00", "#00BFC4", "#C77CFF"]},
                "legend": {"title": null, "orient": "none", "legendX": 164, "legendY": 295, "columns": 2, "symbolType": "square", "symbolSize": 75, "symbolOpacity": 1, "symbolStrokeWidth": 0,
                           "labelFontSize": 12.5, "labelOffset": 9, "rowPadding": 1, "columnPadding": 10,
                           "labelExpr": "datum.label == 'E1' ? 'EIRP, Exp. Opt.' : datum.label == 'E2' ? 'EIRP, PwrC. Opt.' : datum.label == 'M1' ? 'microstrip, Exp. Opt.' : 'microstrip, PwrC. Opt.'"}}
     }},
    {"data": {"name": "coverFit"}, "mark": {"type": "area", "color": "#999999", "opacity": 0.4, "interpolate": "monotone"},
     "encoding": {"y": {"field": "lo", "type": "quantitative", "title": "User coverage (%)"}, "y2": {"field": "hi"}, "detail": {"field": "cfg"}}},
    {"data": {"name": "coverFit"}, "mark": {"type": "line", "strokeWidth": 1.6, "interpolate": "monotone"},
     "encoding": {"y": {"field": "fit", "type": "quantitative", "title": "User coverage (%)"},
                  "color": {"field": "cfg", "type": "nominal", "scale": {"domain": ["E1", "E2", "M1", "M2"], "range": ["#F8766D", "#7CAE00", "#00BFC4", "#C77CFF"]}, "legend": null}}}
   ]
  },
  {
   "width": 291, "height": 244,
   "resolve": {"axis": {"y": "independent"}},
   "encoding": {
    "x": {"field": "users", "type": "quantitative", "title": "Number of users",
          "scale": {"domain": [22.5, 627.5], "nice": false, "zero": false},
          "axis": {"values": [25,50,75,100,125,150,175,200,225,250,275,300,325,350,375,400,425,450,475,500,525,550,575,600,625],
                   "labelExpr": "datum.value % 50 == 0 ? datum.label : ''",
                   "labelOverlap": false, "labelFlush": false,
                   "tickOpacity": {"condition": {"test": "datum.value % 50 != 0", "value": 0}, "value": 1},
                   "gridColor": {"condition": {"test": "datum.value % 50 != 0", "value": "#EBEBEB"}, "value": "#D6D6D6"},
                   "gridWidth": {"condition": {"test": "datum.value % 50 != 0", "value": 0.6}, "value": 1}}}
   },
   "layer": [
    {"data": {"name": "drones"}, "mark": {"type": "circle", "size": 10, "opacity": 1},
     "encoding": {
      "y": {"field": "value", "type": "quantitative", "title": "Number of drones required",
            "scale": {"domain": [17, 261], "nice": false, "zero": false},
            "axis": {"values": [50, 100, 150, 200, 250], "labelOverlap": false, "labelFlush": false,
                     "gridColor": "#D6D6D6", "gridWidth": 1}},
      "color": {"field": "cfg", "type": "nominal", "scale": {"domain": ["E1", "E2", "M1", "M2"], "range": ["#F8766D", "#7CAE00", "#00BFC4", "#C77CFF"]}}
     }},
    {"data": {"name": "droneFit"}, "mark": {"type": "area", "color": "#999999", "opacity": 0.4, "interpolate": "monotone"},
     "encoding": {"y": {"field": "lo", "type": "quantitative",
                        "axis": {"orient": "right", "values": [25, 75, 125, 175, 225], "labels": false, "ticks": false, "domain": false, "title": null, "gridColor": "#EBEBEB", "gridWidth": 0.6}},
                  "y2": {"field": "hi"}, "detail": {"field": "cfg"}}},
    {"data": {"name": "droneFit"}, "mark": {"type": "line", "strokeWidth": 1.6, "interpolate": "monotone"},
     "encoding": {"y": {"field": "fit", "type": "quantitative", "axis": null},
                  "color": {"field": "cfg", "type": "nominal", "scale": {"domain": ["E1", "E2", "M1", "M2"], "range": ["#F8766D", "#7CAE00", "#00BFC4", "#C77CFF"]}, "legend": null}}}
   ]
  }
 ]
}
